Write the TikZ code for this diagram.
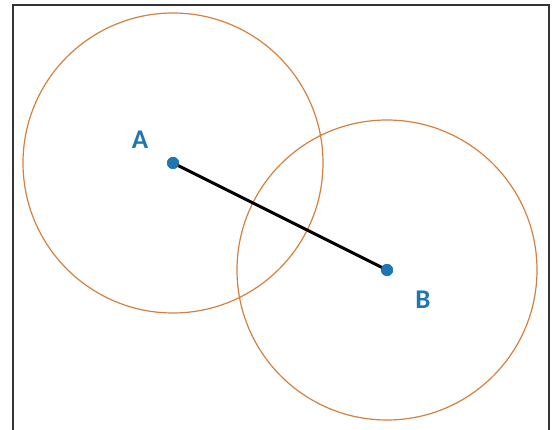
\documentclass[tikz,border=0pt]{standalone}
\usepackage{fontspec}
\setmainfont{Carlito}
\usetikzlibrary{positioning}

\definecolor{ringcol}{RGB}{212,128,62}
\definecolor{ptcol}{RGB}{30,118,178}

\begin{document}
\begin{tikzpicture}[
  x=1pt,y=-1pt,
  ring/.style={draw=ringcol,line width=1.2pt},
  dot/.style={circle,fill=ptcol,inner sep=0pt,minimum size=12pt},
  lab/.style={text=ptcol,font=\fontsize{27}{30}\selectfont\bfseries,inner sep=0pt},
  seg/.style={line width=3pt,black}
]
\useasboundingbox (0,0) rectangle (557,430);
\draw[line width=2pt,black!80] (13,440) -- (13,5) -- (549,5) -- (549,440);
\node[dot] (A) at (173,163) {};
\node[dot] (B) at (387,270) {};
\draw[ring] (A.center) circle[radius=150];
\draw[ring] (B.center) circle[radius=150];
\draw[seg] (A.center) -- (B.center);
\node[dot] at (A.center) {};
\node[dot] at (B.center) {};
\node[lab] (labA) at (140,140) {A};
\node[lab] (labB) at (423,300) {B};
\end{tikzpicture}
\end{document}
